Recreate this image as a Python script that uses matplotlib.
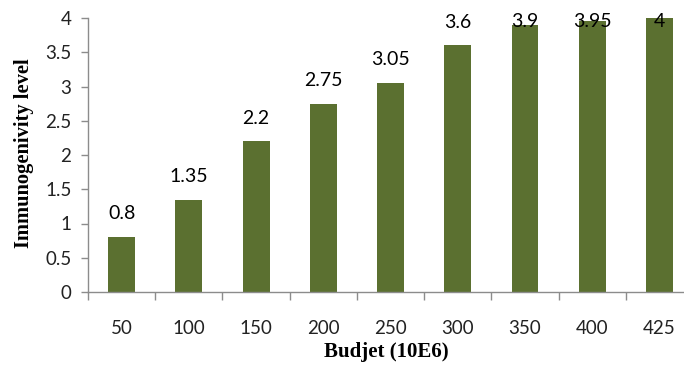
import numpy as np
import matplotlib
matplotlib.use("Agg")
import matplotlib.pyplot as plt

# budget categories and measured immunogenicity
budget = ['50', '100', '150', '200', '250', '300', '350', '400', '425']
immuno = [0.8, 1.35, 2.2, 2.75, 3.05, 3.6, 3.9, 3.95, 4]
value_labels = ['0.8', '1.35', '2.2', '2.75', '3.05', '3.6', '3.9', '3.95', '4']

bar_color = '#5b7030'
axis_color = '#8c8c8c'

fig = plt.figure(figsize=(6.84, 3.67), dpi=100)
ax = fig.add_axes([88 / 684, 1 - 292 / 367, 605 / 684, 274 / 367])

x = np.arange(len(budget))
ax.bar(x, immuno, width=0.4, color=bar_color, zorder=2)

# value labels sit above each bar, held below the top of the plot
for xi, v, lab in zip(x, immuno, value_labels):
    ax.text(xi, min(v + 0.34, 3.95), lab, ha='center', va='center',
            fontsize=14, family='Lato', color='black', zorder=3)

ax.set_xlim(-0.5, len(budget) - 0.5)
ax.set_ylim(0, 4)
ax.set_yticks(np.arange(0, 4.01, 0.5))
ax.set_yticklabels(['0', '0.5', '1', '1.5', '2', '2.5', '3', '3.5', '4'])

ax.set_xticks(x)
ax.set_xticklabels(budget)
ax.set_xticks(np.arange(-0.5, len(budget), 1), minor=True)
ax.tick_params(axis='x', which='major', length=0, pad=20)
ax.tick_params(axis='x', which='minor', length=6, width=1, color=axis_color)
ax.tick_params(axis='y', length=5, width=1, color=axis_color, pad=7)

for lab in ax.get_xticklabels() + ax.get_yticklabels():
    lab.set_family('Lato')
    lab.set_fontsize(13.5)
    lab.set_color('#222222')

for side in ['top', 'right']:
    ax.spines[side].set_visible(False)
for side in ['left', 'bottom']:
    ax.spines[side].set_color(axis_color)
    ax.spines[side].set_linewidth(1)

fig.text(386 / 684, 1 - 352 / 367, 'Budjet (10E6)', ha='center', va='center',
         family='Liberation Serif', fontweight='bold', fontsize=15)
fig.text(24 / 684, 1 - 153 / 367, 'Immunogenivity level', ha='center', va='center',
         rotation=90, family='Liberation Serif', fontweight='bold', fontsize=14.8)

fig.savefig('out.png', dpi=100)
